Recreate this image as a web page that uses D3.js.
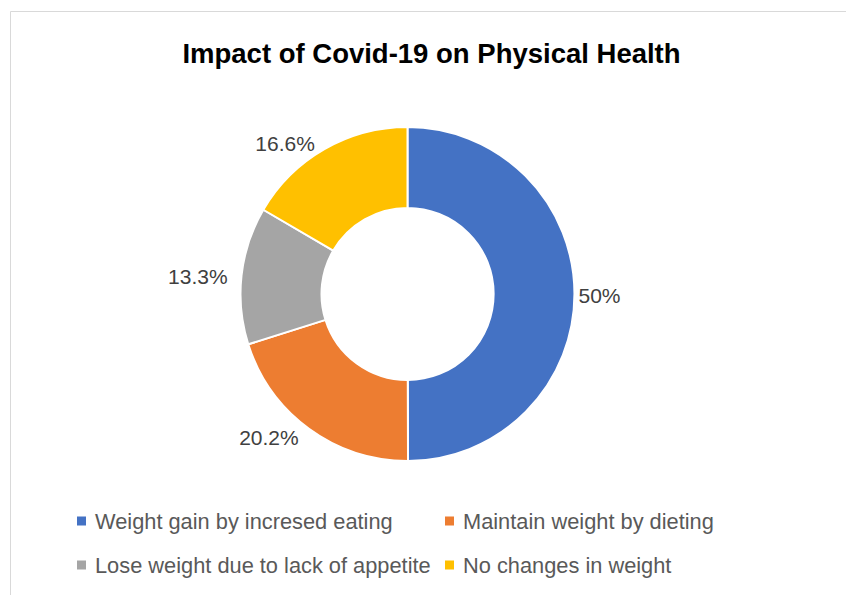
<!DOCTYPE html>
<html>
<head>
<meta charset="utf-8">
<script src="https://cdn.jsdelivr.net/npm/d3@7"></script>
<style>
  html, body { margin: 0; padding: 0; background: #ffffff; }
  svg { display: block; }
</style>
</head>
<body>
<svg id="chart" width="846" height="595"></svg>
<script>
const title = "Impact of Covid-19 on Physical Health";
const categories = [
  "Weight gain by incresed eating",
  "Maintain weight by dieting",
  "Lose weight due to lack of appetite",
  "No changes in weight"
];
const values = [50, 20.2, 13.3, 16.6];
const labels = ["50%", "20.2%", "13.3%", "16.6%"];
const colors = ["#4472C4", "#ED7D31", "#A5A5A5", "#FFC000"];

const W = 846, H = 595;
const svg = d3.select("#chart");

// chart area border
svg.append("path")
  .attr("d", `M10.5,${H} V11.5 H${W}`)
  .attr("fill", "none")
  .attr("stroke", "#d9d9d9")
  .attr("stroke-width", 1);

// title
svg.append("text")
  .attr("x", 431.5)
  .attr("y", 63)
  .attr("text-anchor", "middle")
  .attr("font-family", "'Liberation Sans', Arial, sans-serif")
  .attr("font-weight", "bold")
  .attr("font-size", 27.5)
  .attr("fill", "#000000")
  .text(title);

const cx = 407.5, cy = 294;
const outerR = 167, innerR = 86;

const pie = d3.pie().sort(null).value(d => d.v);
const data = values.map((v, i) => ({ v, i, cat: categories[i], label: labels[i], color: colors[i] }));
const arcs = pie(data);

const arc = d3.arc().innerRadius(innerR).outerRadius(outerR);

const g = svg.append("g").attr("transform", `translate(${cx},${cy})`);

g.selectAll("path.slice")
  .data(arcs)
  .join("path")
  .attr("class", "slice")
  .attr("d", arc)
  .attr("fill", d => d.data.color)
  .attr("stroke", "#ffffff")
  .attr("stroke-width", 2)
  .attr("stroke-linejoin", "round");

// data labels: placed just outside the outer edge at each slice's mid-angle
const labelR = outerR + 9;
const sideGap = 5;
g.selectAll("text.lbl")
  .data(arcs)
  .join("text")
  .attr("class", "lbl")
  .attr("x", d => {
    const a = (d.startAngle + d.endAngle) / 2;
    const s = Math.sin(a);
    return s * labelR + (s >= 0 ? -sideGap : -sideGap);
  })
  .attr("y", d => {
    const a = (d.startAngle + d.endAngle) / 2;
    return -Math.cos(a) * labelR + 2;
  })
  .attr("dy", "0.35em")
  .attr("text-anchor", d => Math.sin((d.startAngle + d.endAngle) / 2) >= 0 ? "start" : "end")
  .attr("font-family", "'Liberation Sans', Arial, sans-serif")
  .attr("font-size", 21)
  .attr("fill", "#404040")
  .text(d => d.data.label);

// legend
const legendCols = [77, 445];
const legendRows = [521, 565];
const lg = svg.append("g");
data.forEach((d, i) => {
  const x = legendCols[i % 2];
  const y = legendRows[Math.floor(i / 2)];
  lg.append("rect")
    .attr("x", x)
    .attr("y", y - 4.5)
    .attr("width", 9)
    .attr("height", 9)
    .attr("fill", d.color);
  lg.append("text")
    .attr("x", x + 18)
    .attr("y", y)
    .attr("dy", "0.35em")
    .attr("font-family", "'Liberation Sans', Arial, sans-serif")
    .attr("font-size", 21.8)
    .attr("fill", "#595959")
    .text(d.cat);
});
</script>
</body>
</html>
